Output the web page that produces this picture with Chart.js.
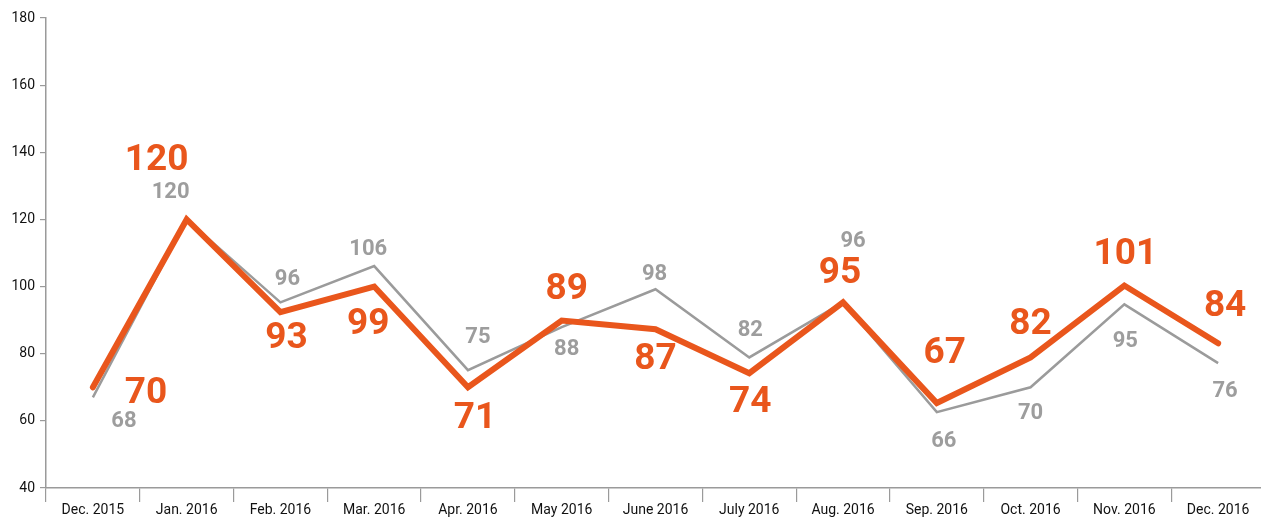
<!DOCTYPE html>
<html>
<head>
<meta charset="utf-8">
<script src="https://cdn.jsdelivr.net/npm/chart.js@4/dist/chart.umd.min.js"></script>
<style>
  html, body { margin: 0; padding: 0; background: #fff; }
  #wrap { width: 1261px; height: 517px; overflow: hidden; }
</style>
</head>
<body>
<div id="wrap"><canvas id="c" width="1265" height="517"></canvas></div>
<script>
  // data
  const months = ['Dec. 2015', 'Jan. 2016', 'Feb. 2016', 'Mar. 2016', 'Apr. 2016', 'May 2016',
    'June 2016', 'July 2016', 'Aug. 2016', 'Sep. 2016', 'Oct. 2016', 'Nov. 2016', 'Dec. 2016'];
  const orangeValues = [70, 120, 92.4, 100, 70, 89.9, 87.3, 74.2, 95.3, 65.3, 78.9, 100.3, 83.1];
  const grayValues = [67, 120, 95.3, 106.1, 75.1, 87.9, 99.2, 78.9, 95.3, 62.6, 70, 94.7, 77.2];
  const orangeLabels = ['70', '120', '93', '99', '71', '89', '87', '74', '95', '67', '82', '101', '84'];
  const grayLabels = ['68', '120', '96', '106', '75', '88', '98', '82', '96', '66', '70', '95', '76'];
  const yTicks = [40, 60, 80, 100, 120, 140, 160, 180];

  // where each value label sits relative to its point (px)
  const orangeOffsets = [[53, 5], [-30, -60], [6, 26], [-6, 37], [7, 30], [5, -32], [0, 30],
    [1, 29], [-3, -30], [8, -50], [0, -34], [1, -32], [7, -38]];
  const grayOffsets = [[31, 23], [-16, -28], [7, -24], [-6, -18], [10, -34], [5, 21], [-1, -16],
    [1, -28], [10, -62], [7, 28], [0, 25], [1, 36], [7, 27]];

  const ORANGE = '#e9561c';
  const GRAY = '#9b9b9b';
  const AXIS = '#9a9a9a';

  const valueLabels = {
    id: 'valueLabels',
    afterDatasetsDraw(chart) {
      const ctx = chart.ctx;
      const sets = [
        { idx: 1, texts: grayLabels, offs: grayOffsets, color: '#9d9d9d', font: 'bold 22px Roboto' },
        { idx: 0, texts: orangeLabels, offs: orangeOffsets, color: ORANGE, font: 'bold 37px Roboto' }
      ];
      ctx.save();
      ctx.textAlign = 'center';
      ctx.textBaseline = 'middle';
      sets.forEach(s => {
        const meta = chart.getDatasetMeta(s.idx);
        ctx.fillStyle = s.color;
        ctx.font = s.font;
        meta.data.forEach((pt, i) => {
          ctx.fillText(s.texts[i], pt.x + s.offs[i][0], pt.y + s.offs[i][1] + 1);
        });
      });
      ctx.restore();
    }
  };

  new Chart(document.getElementById('c'), {
    type: 'line',
    data: {
      labels: months,
      datasets: [
        {
          data: orangeValues,
          borderColor: ORANGE,
          borderWidth: 6,
          borderCapStyle: 'round',
          pointRadius: 0,
          tension: 0,
          fill: false
        },
        {
          data: grayValues,
          borderColor: GRAY,
          borderWidth: 2.5,
          pointRadius: 0,
          tension: 0,
          fill: false
        }
      ]
    },
    options: {
      responsive: false,
      animation: false,
      layout: { padding: { top: 18, right: 0, bottom: 0, left: 0 } },
      plugins: { legend: { display: false }, tooltip: { enabled: false } },
      scales: {
        x: {
          offset: true,
          border: { color: AXIS, width: 1.5 },
          grid: { offset: true, drawOnChartArea: false, drawTicks: true, tickLength: 14, color: AXIS, lineWidth: 1.2 },
          ticks: { color: '#111', font: { family: 'Roboto', size: 14 }, padding: 0, maxRotation: 0, autoSkip: false },
          afterFit(scale) { scale.height = 29; }
        },
        y: {
          min: 40,
          max: 180,
          afterBuildTicks(scale) { scale.ticks = yTicks.map(v => ({ value: v })); },
          border: { color: AXIS, width: 1.5 },
          grid: { drawOnChartArea: false, drawTicks: true, tickLength: 6, color: AXIS, lineWidth: 1.2 },
          ticks: { color: '#111', font: { family: 'Roboto', size: 14 }, padding: 5 },
          afterFit(scale) { scale.width = 46; }
        }
      }
    },
    plugins: [valueLabels]
  });
</script>
</body>
</html>
